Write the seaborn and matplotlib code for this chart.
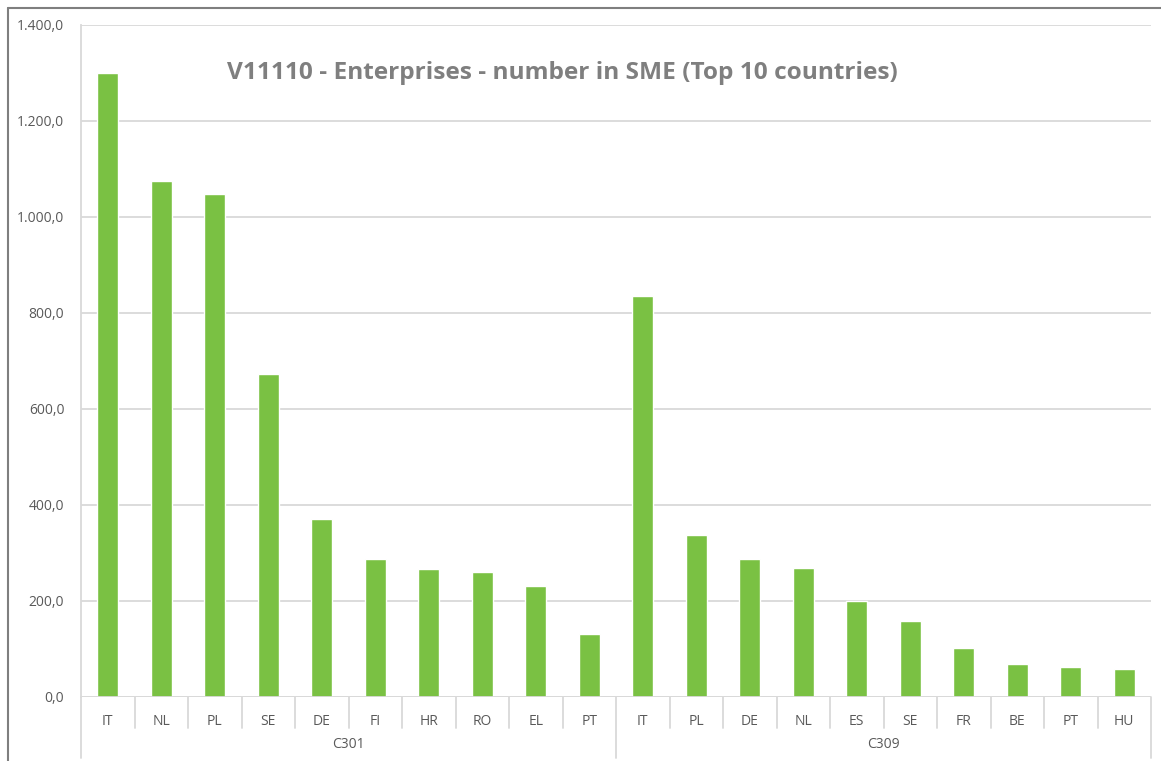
import matplotlib
matplotlib.use("Agg")
import matplotlib.pyplot as plt
import seaborn as sns
import pandas as pd
from matplotlib.ticker import FuncFormatter, MultipleLocator
from matplotlib.transforms import blended_transform_factory
from matplotlib.lines import Line2D

groups = ["C301", "C309"]
c301_countries = ["IT", "NL", "PL", "SE", "DE", "FI", "HR", "RO", "EL", "PT"]
c301_values = [1300, 1075, 1048, 673, 371, 287, 267, 260, 231, 131]
c309_countries = ["IT", "PL", "DE", "NL", "ES", "SE", "FR", "BE", "PT", "HU"]
c309_values = [835, 337, 287, 269, 200, 158, 102, 69, 62, 58]
title = "V11110 - Enterprises - number in SME (Top 10 countries)"

rows = []
for g, cs, vs in [("C301", c301_countries, c301_values), ("C309", c309_countries, c309_values)]:
    for c, v in zip(cs, vs):
        rows.append({"group": g, "country": c, "key": g + "|" + c, "value": v})
df = pd.DataFrame(rows)

sns.set_theme(style="white")
plt.rcParams["font.family"] = ["Open Sans", "DejaVu Sans"]

W, H = 1161, 761
fig = plt.figure(figsize=(W / 100, H / 100), dpi=100)
L, R, T, B = 81, 1151, 25, 697
ax = fig.add_axes([L / W, 1 - B / H, (R - L) / W, (B - T) / H])

sns.barplot(data=df, x="key", y="value", order=list(df["key"]), color="#7AC143",
            saturation=1, width=0.4, ax=ax)

ax.set_ylim(0, 1400)
ax.set_xlim(-0.5, len(df) - 0.5)
ax.yaxis.set_major_locator(MultipleLocator(200))
ax.yaxis.set_major_formatter(FuncFormatter(lambda v, p: f"{v:,.1f}".replace(",", "X").replace(".", ",").replace("X", ".")))
ax.grid(axis="y", color="#D9D9D9", linewidth=1.3)
ax.set_axisbelow(True)
for s in ["top", "right", "bottom"]:
    ax.spines[s].set_visible(False)
ax.spines["left"].set_color("#D9D9D9")
ax.spines["left"].set_linewidth(1.3)
ax.tick_params(axis="y", length=6, color="#D9D9D9", width=1.3, labelsize=10, labelcolor="#595959", pad=6)
ax.tick_params(axis="x", length=0, labelsize=10, labelcolor="#595959", pad=12)
ax.set_xticks(range(len(df)))
ax.set_xticklabels(df["country"])
ax.set_xlabel("")
ax.set_ylabel("")

tr = blended_transform_factory(ax.transData, ax.transAxes)
px = 1 / (B - T)
ax.axhline(0, color="#D9D9D9", linewidth=1.3, zorder=3)
for i in range(len(df) + 1):
    x = i - 0.5
    depth = 61 if i in (0, 10, 20) else 31
    ax.add_line(Line2D([x, x], [0, -depth * px], transform=tr, color="#D9D9D9",
                       linewidth=1.3, clip_on=False))
for gi, g in enumerate(groups):
    ax.text(gi * 10 + 4.5, -48 * px, g, transform=tr, ha="center", va="center",
            fontsize=10, color="#595959")

fig.text(562.5 / W, 1 - 73 / H, title, ha="center", va="center", fontsize=17.6,
         fontweight="bold", color="#7F7F7F")

# outer border
fig.add_artist(Line2D([8 / W, 8 / W], [0, 1 - 8 / H], transform=fig.transFigure, color="#7F7F7F", linewidth=1.5))
fig.add_artist(Line2D([8 / W, 1], [1 - 8 / H, 1 - 8 / H], transform=fig.transFigure, color="#7F7F7F", linewidth=1.5))

fig.savefig("out.png", dpi=100)
